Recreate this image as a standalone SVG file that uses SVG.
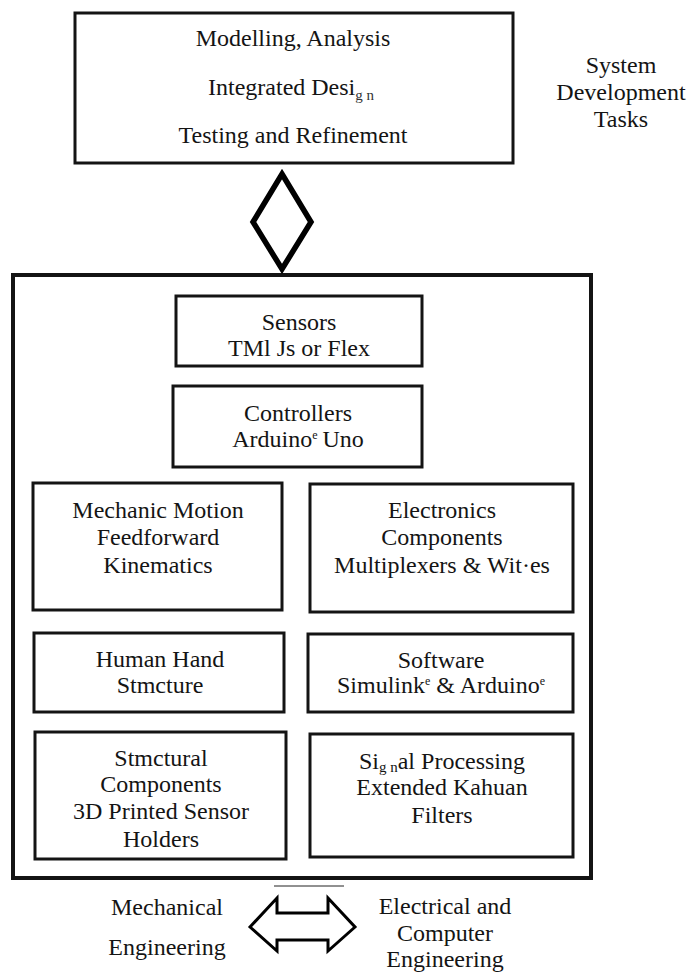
<svg xmlns="http://www.w3.org/2000/svg" width="688" height="972" viewBox="0 0 688 972">
  <style>
    .box { fill: none; stroke: #141414; stroke-width: 3; }
    .outer { fill: none; stroke: #141414; stroke-width: 4; }
    .t { font-family: 'Liberation Serif', 'Times New Roman', serif; font-size: 24px; fill: #141414; text-anchor: middle; }
    .sub { font-size: 15px; }
    .sup { font-size: 12px; }
    .conn { fill: none; stroke: #000; stroke-linejoin: miter; }
  </style>
  <rect width="688" height="972" fill="#fff"/>

  <!-- system development tasks -->
  <g id="tasks">
    <rect class="box" x="75" y="13" width="438" height="150"/>
    <text class="t" x="293" y="46">Modelling, Analysis</text>
    <text class="t" x="208" y="95" style="text-anchor:start">Integrated Desi<tspan class="sub" dy="4.5" fill="#333">g n</tspan></text>
    <text class="t" x="293" y="143">Testing and Refinement</text>
  </g>

  <g id="tasks-label">
    <text class="t" x="621" y="73">System</text>
    <text class="t" x="621" y="100">Development</text>
    <text class="t" x="621" y="127">Tasks</text>
  </g>

  <!-- system container -->
  <g id="system">
    <rect class="outer" x="13" y="275" width="578" height="603"/>
  </g>

  <g id="sensors">
    <rect class="box" x="176" y="296" width="246" height="70"/>
    <text class="t" x="299" y="330">Sensors</text>
    <text class="t" x="299" y="356">TMl Js or Flex</text>
  </g>

  <g id="controllers">
    <rect class="box" x="173" y="386" width="249" height="81"/>
    <text class="t" x="298" y="421">Controllers</text>
    <text class="t" x="298" y="447">Arduino<tspan class="sup" dy="-8">e</tspan><tspan dy="8" dx="5">Uno</tspan></text>
  </g>

  <g id="mechanic-motion">
    <rect class="box" x="33" y="483" width="249" height="127"/>
    <text class="t" x="158" y="518">Mechanic Motion</text>
    <text class="t" x="158" y="545">Feedforward</text>
    <text class="t" x="158" y="573">Kinematics</text>
  </g>

  <g id="electronics">
    <rect class="box" x="310" y="484" width="263" height="128"/>
    <text class="t" x="442" y="518">Electronics</text>
    <text class="t" x="442" y="545">Components</text>
    <text class="t" x="442" y="573">Multiplexers &amp; Wit·es</text>
  </g>

  <g id="human-hand">
    <rect class="box" x="34" y="633" width="250" height="79"/>
    <text class="t" x="160" y="667">Human Hand</text>
    <text class="t" x="160" y="693">Stmcture</text>
  </g>

  <g id="software">
    <rect class="box" x="308" y="634" width="265" height="78"/>
    <text class="t" x="441" y="668">Software</text>
    <text class="t" x="441" y="693">Simulink<tspan class="sup" dy="-8">e</tspan><tspan dy="8" dx="6">&amp; Arduino</tspan><tspan class="sup" dy="-8">e</tspan></text>
  </g>

  <g id="structural">
    <rect class="box" x="35" y="732" width="251" height="127"/>
    <text class="t" x="161" y="766">Stmctural</text>
    <text class="t" x="161" y="792">Components</text>
    <text class="t" x="161" y="819">3D Printed Sensor</text>
    <text class="t" x="161" y="847">Holders</text>
  </g>

  <g id="signal-processing">
    <rect class="box" x="310" y="734" width="263" height="123"/>
    <text class="t" x="442" y="769">Si<tspan class="sub" dy="3">g n</tspan><tspan dy="-3">al Processing</tspan></text>
    <text class="t" x="442" y="795">Extended Kahuan</text>
    <text class="t" x="442" y="823">Filters</text>
  </g>

  <!-- engineering disciplines -->
  <g id="mechanical">
    <text class="t" x="167" y="915">Mechanical</text>
    <text class="t" x="167" y="955">Engineering</text>
  </g>

  <g id="electrical">
    <text class="t" x="445" y="914">Electrical and</text>
    <text class="t" x="445" y="941">Computer</text>
    <text class="t" x="445" y="967">Engineering</text>
  </g>

  <!-- connectors -->
  <g id="connectors">
    <polygon class="conn" stroke-width="5.5" points="282,174 311,222 282,269 253,222"/>
    <line x1="274" y1="886" x2="344" y2="886" stroke="#222" stroke-width="1"/>
    <polygon class="conn" stroke-width="3" points="250,927 277,898 277,913 328,913 328,898 355,927 328,951 328,940 277,940 277,951"/>
  </g>
</svg>
